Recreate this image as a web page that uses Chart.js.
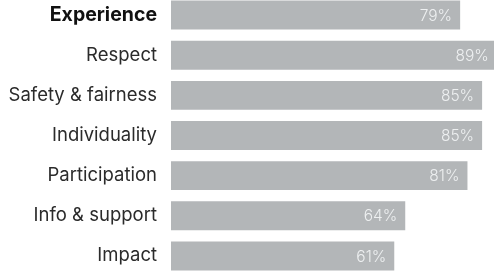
<!DOCTYPE html>
<html>
<head>
<meta charset="utf-8">
<script src="https://cdn.jsdelivr.net/npm/chart.js@4"></script>
<style>
    html, body { margin: 0; padding: 0; background: #fff; overflow: hidden; }
    #wrap { position: absolute; left: 0; top: -5px; width: 494px; height: 281px; }
</style>
</head>
<body>
<div id="wrap"><canvas id="chart"></canvas></div>
<script>
// Chart data
const categories = ['Experience', 'Respect', 'Safety & fairness', 'Individuality', 'Participation', 'Info & support', 'Impact'];
const scores = [79, 89, 85, 85, 81, 64, 61];

// Draw the percentage at the inner end of each bar
const valueLabels = {
    id: 'valueLabels',
    afterDatasetsDraw(chart) {
        const ctx = chart.ctx;
        const area = chart.chartArea;
        ctx.save();
        ctx.font = '300 15.5px Inter';
        ctx.fillStyle = '#eef0f1';
        ctx.textAlign = 'right';
        ctx.textBaseline = 'middle';
        chart.getDatasetMeta(0).data.forEach((bar, i) => {
            // bars that run past the edge get their label from the true end
            const x = Math.min(bar.x, area.right + 3) - 8;
            ctx.fillText(scores[i] + '%', x, bar.y + 1);
        });
        ctx.restore();
    }
};

new Chart(document.getElementById('chart'), {
    type: 'bar',
    data: {
        labels: categories,
        datasets: [{
            data: scores,
            backgroundColor: '#b3b6b8',
            borderWidth: 0,
            barPercentage: 0.72,
            categoryPercentage: 1
        }]
    },
    options: {
        indexAxis: 'y',
        responsive: true,
        maintainAspectRatio: false,
        animation: false,
        layout: { padding: 0 },
        plugins: {
            legend: { display: false },
            tooltip: { enabled: false }
        },
        scales: {
            x: {
                display: false,
                min: 0,
                max: 88.25
            },
            y: {
                border: { display: false },
                grid: { display: false, drawTicks: false },
                afterFit(scale) {
                    scale.width = 171;
                    // no extra room above / below for the label boxes
                    scale.paddingTop = 0;
                    scale.paddingBottom = 0;
                },
                ticks: {
                    padding: 14,
                    color: (c) => c.index === 0 ? '#111' : '#2b2b2b',
                    font: (c) => ({
                        family: 'Inter',
                        size: c.index === 0 ? 19.5 : 18.5,
                        weight: c.index === 0 ? 'bold' : 'normal'
                    })
                }
            }
        }
    },
    plugins: [valueLabels]
});
</script>
</body>
</html>
